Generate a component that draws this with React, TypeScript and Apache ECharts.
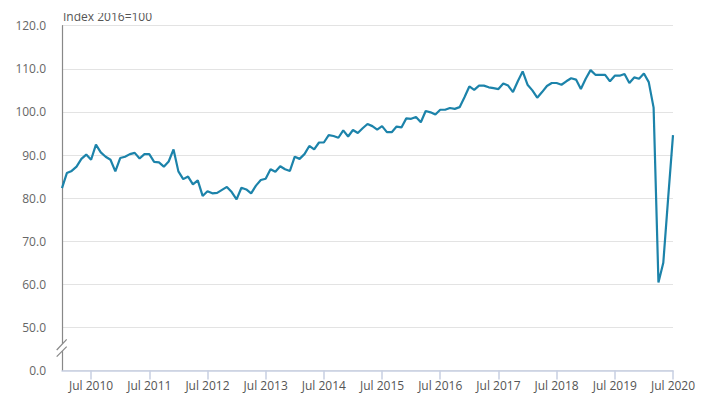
import React, { useEffect, useRef } from "react";
import * as echarts from "echarts";

// Monthly index values, Jan 2010 – Jul 2020 (Index 2016=100)
const startYear = 2010;
const values2010: number[] = [82.3, 85.8, 86.3, 87.3, 89.1, 90.1, 88.9, 92.4, 90.6, 89.6, 88.9, 86.2];
const values2011: number[] = [89.3, 89.6, 90.2, 90.5, 89.2, 90.2, 90.2, 88.4, 88.3, 87.3, 88.5, 91.3];
const values2012: number[] = [86.2, 84.4, 85.0, 83.2, 84.1, 80.5, 81.6, 81.1, 81.2, 81.9, 82.6, 81.4];
const values2013: number[] = [79.7, 82.4, 82.0, 81.1, 82.9, 84.2, 84.5, 86.7, 86.1, 87.4, 86.7, 86.3];
const values2014: number[] = [89.6, 89.1, 90.2, 92.1, 91.3, 92.9, 92.9, 94.6, 94.4, 94.0, 95.7, 94.3];
const values2015: number[] = [95.8, 95.1, 96.2, 97.2, 96.7, 95.9, 96.7, 95.3, 95.3, 96.6, 96.4, 98.5];
const values2016: number[] = [98.4, 98.8, 97.6, 100.2, 99.9, 99.4, 100.5, 100.5, 100.9, 100.7, 101.1, 103.4];
const values2017: number[] = [105.9, 105.1, 106.1, 106.1, 105.7, 105.5, 105.3, 106.6, 106.1, 104.6, 107.1, 109.4];
const values2018: number[] = [106.3, 105.0, 103.3, 104.6, 106.0, 106.7, 106.7, 106.3, 107.1, 107.8, 107.5, 105.3];
const values2019: number[] = [107.7, 109.7, 108.6, 108.6, 108.6, 107.1, 108.4, 108.4, 108.8, 106.7, 108.0, 107.7];
const values2020: number[] = [108.9, 106.9, 101.0, 60.4, 65.0, 80.0, 94.6];

const monthNames = ["Jan", "Feb", "Mar", "Apr", "May", "Jun", "Jul", "Aug", "Sep", "Oct", "Nov", "Dec"];
const yTickValues = [40, 50, 60, 70, 80, 90, 100, 110, 120];
const yTickLabels = ["0.0", "50.0", "60.0", "70.0", "80.0", "90.0", "100.0", "110.0", "120.0"];
const unitLabel = "Index 2016=100";

const allValues = [
  ...values2010, ...values2011, ...values2012, ...values2013, ...values2014, ...values2015,
  ...values2016, ...values2017, ...values2018, ...values2019, ...values2020,
];
const categories = allValues.map((_, i) => `${monthNames[i % 12]} ${startYear + Math.floor(i / 12)}`);

export default function App() {
  const ref = useRef<HTMLDivElement>(null);
  useEffect(() => {
    if (!ref.current) return;
    const chart = echarts.init(ref.current, null, { renderer: "svg" });
    const isJul = (idx: number) => idx % 12 === 6;
    const gridTop = 25.7;
    const gridBottomY = 370.5;
    chart.setOption({
      animation: false,
      grid: { left: 62, right: 31, top: gridTop, bottom: 408 - gridBottomY, containLabel: false },
      xAxis: {
        type: "category",
        data: categories,
        boundaryGap: false,
        axisLine: { lineStyle: { color: "#c7cfe2", width: 1.5 } },
        axisTick: { show: true, interval: (idx: number) => isJul(idx), length: 9, lineStyle: { color: "#c7cfe2", width: 1.5 } },
        axisLabel: {
          interval: (idx: number) => isJul(idx),
          color: "#555",
          fontFamily: "Open Sans",
          fontSize: 12,
          margin: 9,
        },
        splitLine: { show: false },
      },
      yAxis: {
        type: "value",
        min: yTickValues[0],
        max: yTickValues[yTickValues.length - 1],
        interval: 10,
        axisLine: { show: true, lineStyle: { color: "#888", width: 1.2 } },
        axisTick: { show: false },
        axisLabel: {
          color: "#666",
          fontFamily: "Open Sans",
          fontSize: 12,
          margin: 16,
          formatter: (v: number) => {
            const k = yTickValues.indexOf(v);
            return k >= 0 ? yTickLabels[k] : "";
          },
        },
        splitLine: {
          show: true,
          lineStyle: { color: "#e3e3e3", width: 1.2 },
        },
      },
      series: [
        {
          type: "line",
          data: allValues,
          symbol: "none",
          lineStyle: { color: "#1c83aa", width: 2.2 },
          z: 3,
        },
      ],
      graphic: [
        {
          type: "text",
          left: 63,
          top: 10,
          style: { text: unitLabel, fill: "#555", font: "12px 'Open Sans'" },
          z: 10,
        },
        {
          type: "rect",
          shape: { x: 55, y: 0, width: 160, height: 13 },
          style: { fill: "#fff" },
          z: 11,
        },
        {
          type: "polygon",
          shape: { points: [[56.7, 350], [66.7, 339.3], [66.7, 346.7], [56.7, 356.7]] },
          style: { fill: "#fff" },
          z: 20,
        },
        {
          type: "line",
          shape: { x1: 56.7, y1: 350, x2: 66.7, y2: 339.3 },
          style: { stroke: "#888", lineWidth: 1.2 },
          z: 21,
        },
        {
          type: "line",
          shape: { x1: 56.7, y1: 356.7, x2: 66.7, y2: 346.7 },
          style: { stroke: "#888", lineWidth: 1.2 },
          z: 21,
        },
      ],
    });
    return () => chart.dispose();
  }, []);
  return <div ref={ref} style={{ width: 704, height: 408, position: "absolute", left: 0, top: 0, background: "#fff" }} />;
}
